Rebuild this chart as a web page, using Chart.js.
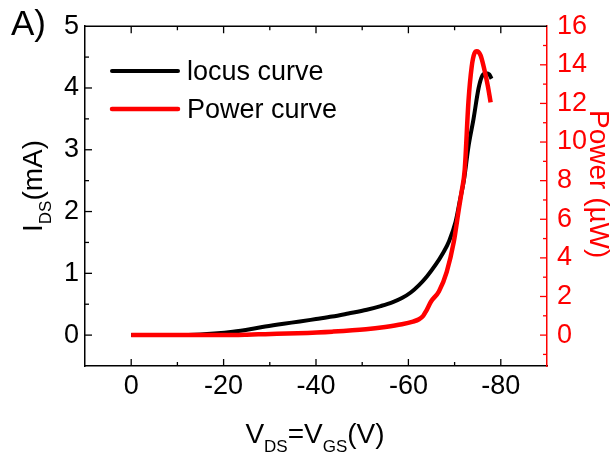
<!DOCTYPE html>
<html>
<head>
<meta charset="utf-8">
<script src="https://cdn.jsdelivr.net/npm/chart.js@4.4.1/dist/chart.umd.min.js"></script>
<style>
  body { margin: 0; background: #fff; }
  #wrap { width: 615px; height: 459px; }
</style>
</head>
<body>
<div id="wrap"><canvas id="ivChart" width="615" height="459"></canvas></div>
<script>
// locus curve: V_DS (V) vs I_DS (mA)
const vLocus = [0, -5, -10, -15, -18, -22, -26, -29, -33, -36.5, -40, -43.5, -47, -51, -54, -56.5, -58.6, -60.5, -62.3, -64, -65.9, -67.5, -68.8, -70.2, -71.2, -72, -73, -74.1, -75.2, -76, -76.8, -77.5, -78];
const iLocus = [0, 0, 0, 0.01, 0.025, 0.055, 0.1, 0.14, 0.185, 0.22, 0.26, 0.3, 0.35, 0.41, 0.47, 0.53, 0.6, 0.69, 0.81, 0.95, 1.14, 1.33, 1.52, 1.83, 2.2, 2.5, 3.05, 3.5, 4.0, 4.2, 4.24, 4.22, 4.15];

// power curve: V_DS (V) vs P (uW)
const vPower = [0, -10, -20, -25, -29, -36, -43.5, -50.8, -55, -58.6, -61, -62.3, -63.2, -63.8, -64.9, -66.6, -68.3, -69.8, -70.9, -71.5, -72.2, -73, -73.7, -74.3, -74.8, -75.6, -76.3, -77.2, -77.8];
const pPower = [0, 0, 0, 0.02, 0.05, 0.1, 0.18, 0.3, 0.42, 0.56, 0.7, 0.82, 1.0, 1.23, 1.74, 2.26, 3.28, 4.8, 6.5, 7.4, 8.6, 12.1, 13.9, 14.6, 14.7, 14.5, 13.9, 12.9, 12.05];

const xTicks = [0, -20, -40, -60, -80];
const leftTicks = [0, 1, 2, 3, 4, 5];
const rightTicks = [0, 2, 4, 6, 8, 10, 12, 14, 16];

const FONT = '"Liberation Sans", Arial, sans-serif';
const RED = '#ff0000';

function pairs(xs, ys) {
    return xs.map((x, i) => ({ x: x, y: ys[i] }));
}

// inward tick marks, frame top, legend and axis titles
const decorations = {
    id: 'decorations',
    afterDraw(chart) {
        const ctx = chart.ctx;
        const a = chart.chartArea;
        const sx = chart.scales.x, sy = chart.scales.y, sr = chart.scales.y1;
        ctx.save();

        // top frame line
        ctx.strokeStyle = '#000';
        ctx.lineWidth = 1.5;
        ctx.beginPath();
        ctx.moveTo(a.left, a.top);
        ctx.lineTo(a.right, a.top);
        ctx.stroke();

        // x ticks, bottom and top
        ctx.lineWidth = 1.3;
        for (let v = 10; v >= -90; v -= 10) {
            const px = sx.getPixelForValue(v);
            if (px <= a.left + 1 || px >= a.right - 1) continue;
            const len = v % 20 === 0 ? 7 : 4;
            ctx.beginPath();
            ctx.moveTo(px, a.bottom); ctx.lineTo(px, a.bottom - len);
            ctx.moveTo(px, a.top); ctx.lineTo(px, a.top + len);
            ctx.stroke();
        }
        // left ticks
        for (let v = -0.5; v <= 5; v += 0.5) {
            const py = sy.getPixelForValue(v);
            if (py <= a.top + 1 || py >= a.bottom - 1) continue;
            const len = Number.isInteger(v) ? 7 : 4;
            ctx.beginPath();
            ctx.moveTo(a.left, py); ctx.lineTo(a.left + len, py);
            ctx.stroke();
        }
        // right ticks (red)
        ctx.strokeStyle = RED;
        for (let v = -1; v <= 16; v += 1) {
            const py = sr.getPixelForValue(v);
            if (py <= a.top + 1 || py >= a.bottom - 1) continue;
            const len = v % 2 === 0 ? 7 : 4;
            ctx.beginPath();
            ctx.moveTo(a.right, py); ctx.lineTo(a.right - len, py);
            ctx.stroke();
        }

        // legend
        const items = [
            { label: 'locus curve', color: '#000', y: 71, w: 4 },
            { label: 'Power curve', color: RED, y: 109, w: 4.5 }
        ];
        ctx.textBaseline = 'alphabetic';
        ctx.textAlign = 'left';
        ctx.font = '27px ' + FONT;
        items.forEach(it => {
            ctx.strokeStyle = it.color;
            ctx.lineWidth = it.w;
            ctx.lineCap = 'round';
            ctx.beginPath();
            ctx.moveTo(112, it.y); ctx.lineTo(178, it.y);
            ctx.stroke();
            ctx.fillStyle = '#000';
            ctx.fillText(it.label, 187, it.y + 9);
        });

        // panel label
        ctx.fillStyle = '#000';
        ctx.font = '35px ' + FONT;
        ctx.fillText('A)', 11, 35);

        // x title with subscripts
        const big = '28px ' + FONT, small = '17px ' + FONT;
        const parts = [['V', big, 0], ['DS', small, 9], ['=V', big, 0], ['GS', small, 9], ['(V)', big, 0]];
        let total = 0;
        parts.forEach(p => { ctx.font = p[1]; total += ctx.measureText(p[0]).width; });
        let cx = 315 - total / 2;
        parts.forEach(p => {
            ctx.font = p[1];
            ctx.fillText(p[0], cx, 443 + p[2]);
            cx += ctx.measureText(p[0]).width;
        });

        // left y title, rotated
        ctx.save();
        ctx.translate(42, 232);
        ctx.rotate(-Math.PI / 2);
        const lparts = [['I', big, 0], ['DS', small, 9], ['(mA)', big, 0]];
        let lx = 0;
        lparts.forEach(p => {
            ctx.font = p[1];
            ctx.fillText(p[0], lx, p[2]);
            lx += ctx.measureText(p[0]).width;
        });
        ctx.restore();

        // right y title, rotated
        ctx.save();
        ctx.translate(590, 110);
        ctx.rotate(Math.PI / 2);
        ctx.fillStyle = RED;
        ctx.font = big;
        ctx.fillText('Power (\u00b5W)', 0, 0);
        ctx.restore();

        ctx.restore();
    }
};

function initChart() {
    const ctx = document.getElementById('ivChart').getContext('2d');
    new Chart(ctx, {
        type: 'scatter',
        data: {
            datasets: [{
                label: 'locus curve',
                data: pairs(vLocus, iLocus),
                yAxisID: 'y',
                showLine: true,
                borderColor: '#000',
                borderWidth: 4,
                pointRadius: 0,
                cubicInterpolationMode: 'monotone',
                order: 1
            }, {
                label: 'Power curve',
                data: pairs(vPower, pPower),
                yAxisID: 'y1',
                showLine: true,
                borderColor: RED,
                borderWidth: 4.5,
                pointRadius: 0,
                cubicInterpolationMode: 'monotone',
                order: 0
            }]
        },
        options: {
            responsive: false,
            animation: false,
            devicePixelRatio: 1,
            layout: { padding: { top: 22, left: 0, right: 0, bottom: 0 } },
            plugins: {
                legend: { display: false },
                tooltip: { enabled: false }
            },
            scales: {
                x: {
                    type: 'linear',
                    reverse: true,
                    min: -90,
                    max: 10,
                    grid: { display: false, drawTicks: false },
                    border: { color: '#000', width: 1.5 },
                    ticks: { color: '#000', font: { family: FONT, size: 27 }, padding: 4, maxRotation: 0 },
                    afterBuildTicks: s => { s.ticks = xTicks.map(v => ({ value: v })); },
                    afterFit: s => { s.height = 93; }
                },
                y: {
                    position: 'left',
                    min: -0.5,
                    max: 5,
                    grid: { display: false, drawTicks: false },
                    border: { color: '#000', width: 1.5 },
                    ticks: { color: '#000', font: { family: FONT, size: 27 }, padding: 6 },
                    afterBuildTicks: s => { s.ticks = leftTicks.map(v => ({ value: v })); },
                    afterFit: s => { s.width = 85; }
                },
                y1: {
                    position: 'right',
                    min: -1.6,
                    max: 16,
                    grid: { display: false, drawTicks: false },
                    border: { color: RED, width: 1.5 },
                    ticks: { color: RED, font: { family: FONT, size: 27 }, padding: 10 },
                    afterBuildTicks: s => { s.ticks = rightTicks.map(v => ({ value: v })); },
                    afterFit: s => { s.width = 68; }
                }
            }
        },
        plugins: [decorations]
    });
}

document.addEventListener('DOMContentLoaded', initChart);
</script>
</body>
</html>
